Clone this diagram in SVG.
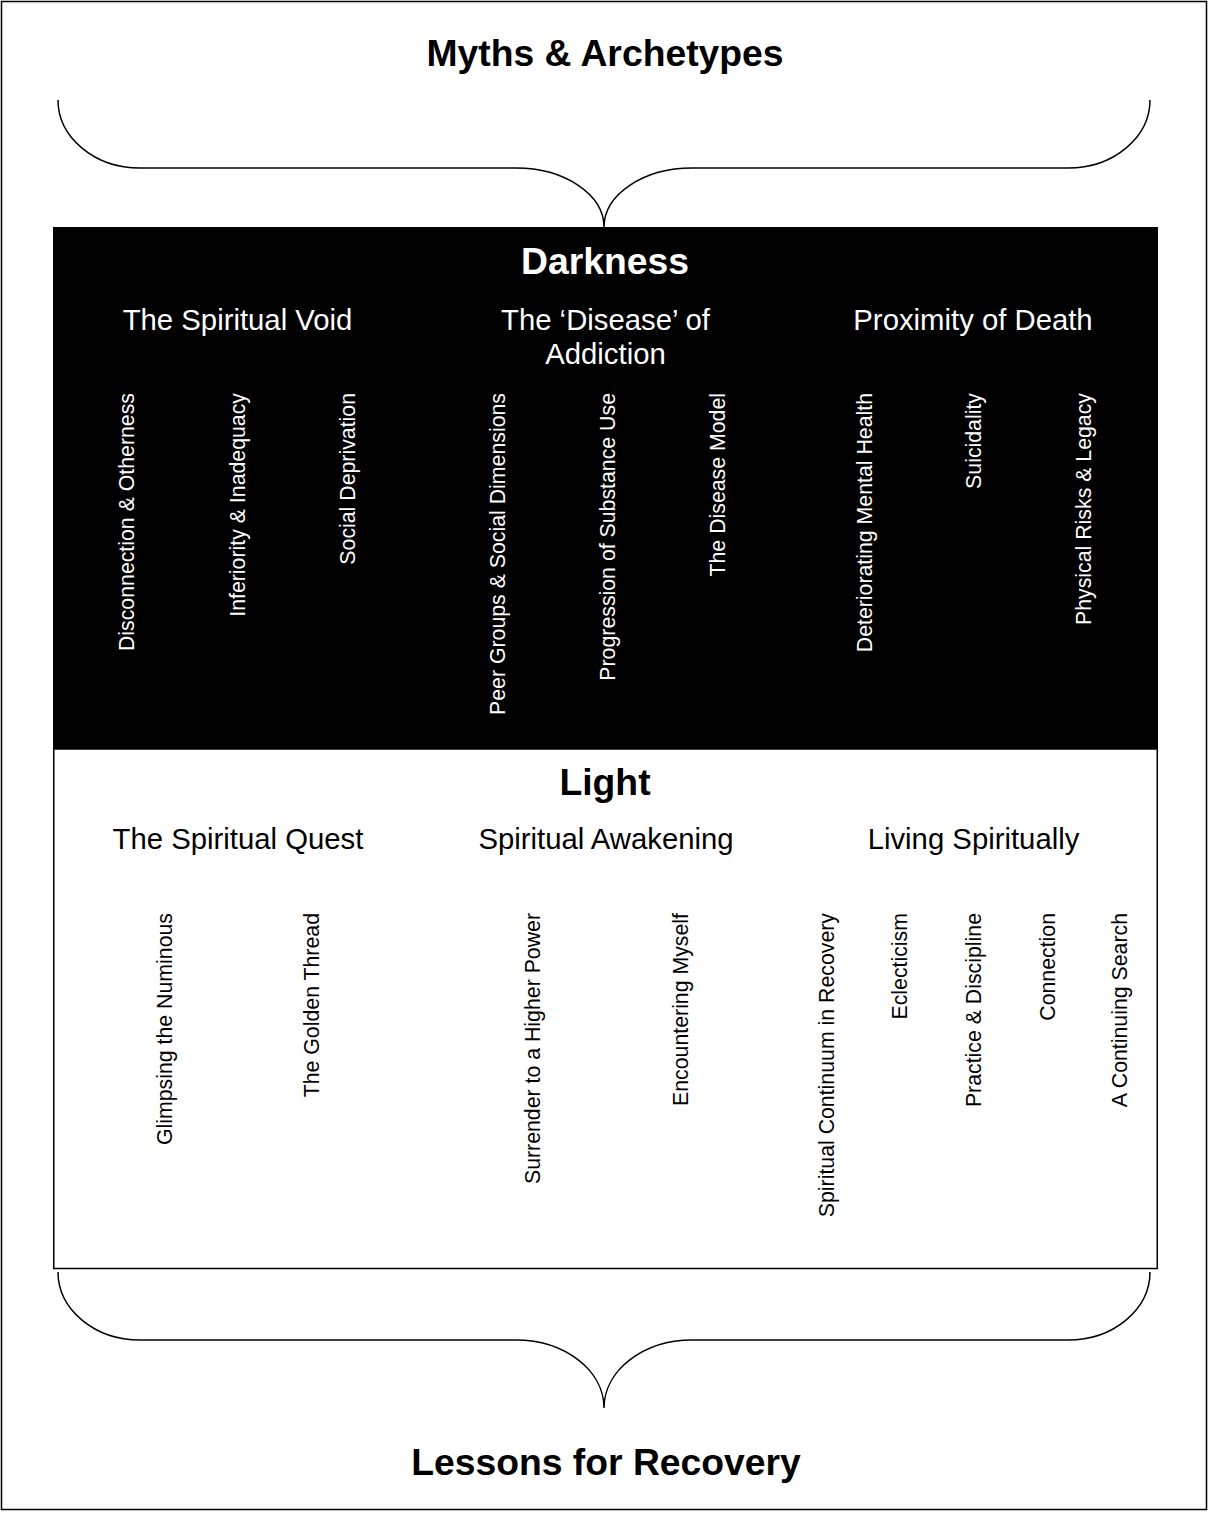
<svg xmlns="http://www.w3.org/2000/svg" width="1208" height="1514" viewBox="0 0 1208 1514">
  <style>
    text { font-family: "Liberation Sans", Arial, sans-serif; }
    .title { font-size: 37.3px; font-weight: bold; text-anchor: middle; }
    .sub { font-size: 29.3px; text-anchor: middle; }
    .item { font-size: 21.3px; text-anchor: end; }
    .dark { fill: #ffffff; }
    .lite { fill: #000000; }
    .brace { fill: none; stroke: #000000; stroke-width: 1.5; }
  </style>

  <!-- page frame -->
  <rect x="1.5" y="1.5" width="1205" height="1508" fill="#ffffff" stroke="#000000" stroke-width="1.5"/>

  <g id="myths">
    <text class="title lite" x="605" y="66">Myths &amp; Archetypes</text>
  </g>

  <g id="connectors">
    <!-- upper brace gathering into the Darkness panel -->
    <path class="brace" d="M58,100 C58,137.5 94.7,168 140,168 L516,168 C564.6,168 604,194.4 604,227 C604,194.4 643.4,168 692,168 L1068,168 C1113.3,168 1150,137.5 1150,100"/>
    <!-- lower brace gathering into the lessons -->
    <path class="brace" d="M58,1272 C58,1309.5 94.7,1340 140,1340 L516,1340 C564.6,1340 604,1370.5 604,1408 C604,1370.5 643.4,1340 692,1340 L1068,1340 C1113.3,1340 1150,1309.5 1150,1272"/>
  </g>

  <g id="darkness">
    <rect x="53" y="227" width="1105" height="522" fill="#000000"/>
    <text class="title dark" x="605" y="274">Darkness</text>

    <g id="spiritual-void">
      <text class="sub dark" x="237.5" y="330">The Spiritual Void</text>
      <text class="item dark" transform="translate(134,393) rotate(-90)">Disconnection &amp; Otherness</text>
      <text class="item dark" transform="translate(244.5,393) rotate(-90)">Inferiority &amp; Inadequacy</text>
      <text class="item dark" transform="translate(354.5,393) rotate(-90)">Social Deprivation</text>
    </g>

    <g id="disease-of-addiction">
      <text class="sub dark" x="605.5" y="330">The ‘Disease’ of</text>
      <text class="sub dark" x="605.5" y="364">Addiction</text>
      <text class="item dark" transform="translate(504.5,393) rotate(-90)">Peer Groups &amp; Social Dimensions</text>
      <text class="item dark" transform="translate(614.5,393) rotate(-90)">Progression of Substance Use</text>
      <text class="item dark" transform="translate(724.5,393) rotate(-90)">The Disease Model</text>
    </g>

    <g id="proximity-of-death">
      <text class="sub dark" x="973" y="330">Proximity of Death</text>
      <text class="item dark" transform="translate(871.5,393) rotate(-90)">Deteriorating Mental Health</text>
      <text class="item dark" transform="translate(980.5,393) rotate(-90)">Suicidality</text>
      <text class="item dark" transform="translate(1090.5,393) rotate(-90)">Physical Risks &amp; Legacy</text>
    </g>
  </g>

  <g id="light">
    <rect x="53.75" y="749" width="1103.5" height="519.5" fill="#ffffff" stroke="#000000" stroke-width="1.5"/>
    <text class="title lite" x="605" y="795">Light</text>

    <g id="spiritual-quest">
      <text class="sub lite" x="238" y="849">The Spiritual Quest</text>
      <text class="item lite" transform="translate(172,913) rotate(-90)">Glimpsing the Numinous</text>
      <text class="item lite" transform="translate(318.6,913) rotate(-90)">The Golden Thread</text>
    </g>

    <g id="spiritual-awakening">
      <text class="sub lite" x="606" y="849">Spiritual Awakening</text>
      <text class="item lite" transform="translate(540.3,913) rotate(-90)">Surrender to a Higher Power</text>
      <text class="item lite" transform="translate(688,913) rotate(-90)">Encountering Myself</text>
    </g>

    <g id="living-spiritually">
      <text class="sub lite" x="973.5" y="849">Living Spiritually</text>
      <text class="item lite" transform="translate(833.6,913) rotate(-90)">Spiritual Continuum in Recovery</text>
      <text class="item lite" transform="translate(907,913) rotate(-90)">Eclecticism</text>
      <text class="item lite" transform="translate(981.3,913) rotate(-90)">Practice &amp; Discipline</text>
      <text class="item lite" transform="translate(1054.6,913) rotate(-90)">Connection</text>
      <text class="item lite" transform="translate(1127,913) rotate(-90)">A Continuing Search</text>
    </g>
  </g>

  <g id="lessons">
    <text class="title lite" x="606" y="1475">Lessons for Recovery</text>
  </g>
</svg>
